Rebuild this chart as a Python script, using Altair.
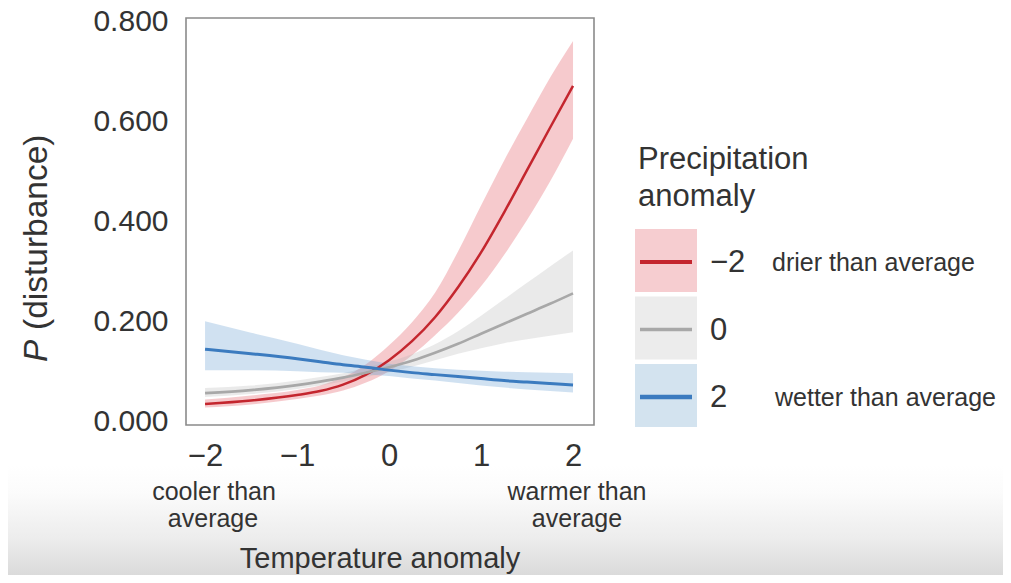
import altair as alt
import pandas as pd

# ---------------- data ----------------
temp = [-2, -1.5, -1, -0.75, -0.5, -0.25, 0, 0.25, 0.5, 0.75, 1, 1.25, 1.5, 1.75, 2]

red_mean = [0.034, 0.041, 0.052, 0.060, 0.073, 0.093, 0.122, 0.160, 0.208, 0.268, 0.338, 0.418, 0.503, 0.588, 0.672]
red_lo   = [0.027, 0.033, 0.044, 0.051, 0.061, 0.077, 0.100, 0.132, 0.172, 0.217, 0.270, 0.333, 0.403, 0.480, 0.566]
red_hi   = [0.043, 0.051, 0.062, 0.071, 0.088, 0.114, 0.152, 0.198, 0.257, 0.340, 0.432, 0.522, 0.606, 0.688, 0.762]

gray_mean = [0.056, 0.062, 0.072, 0.079, 0.087, 0.097, 0.108, 0.121, 0.137, 0.155, 0.175, 0.195, 0.215, 0.235, 0.256]
gray_lo   = [0.048, 0.054, 0.064, 0.071, 0.079, 0.088, 0.098, 0.109, 0.122, 0.135, 0.146, 0.156, 0.164, 0.171, 0.178]
gray_hi   = [0.066, 0.071, 0.081, 0.088, 0.096, 0.107, 0.119, 0.134, 0.154, 0.180, 0.211, 0.244, 0.277, 0.310, 0.342]

blue_mean = [0.144, 0.135, 0.125, 0.119, 0.113, 0.108, 0.102, 0.097, 0.093, 0.089, 0.085, 0.081, 0.078, 0.075, 0.072]
blue_lo   = [0.102, 0.102, 0.100, 0.098, 0.097, 0.094, 0.090, 0.085, 0.081, 0.076, 0.071, 0.067, 0.063, 0.060, 0.057]
blue_hi   = [0.200, 0.177, 0.155, 0.143, 0.132, 0.123, 0.115, 0.110, 0.106, 0.103, 0.101, 0.099, 0.098, 0.097, 0.096]

precip_levels = ["\u22122", "0", "2"]
precip_desc = ["drier than average", "", "wetter than average"]
line_colors = ["#c4262e", "#a8a8a8", "#3b7bbf"]
band_colors = ["#e8747c", "#b4b4b4", "#6fa5d3"]
key_colors = ["#f6cdd0", "#ececec", "#d3e3ef"]

y_ticks = [0, 0.2, 0.4, 0.6, 0.8]
x_ticks = [-2, -1, 0, 1, 2]

FONT = "Liberation Sans"
TXT = "#333333"

rows = []
for lvl, m, lo, hi in zip(precip_levels,
                          [red_mean, gray_mean, blue_mean],
                          [red_lo, gray_lo, blue_lo],
                          [red_hi, gray_hi, blue_hi]):
    for x, a, b, c in zip(temp, m, lo, hi):
        rows.append({"temp": x, "precip": lvl, "p": a, "lo": b, "hi": c})
df = pd.DataFrame(rows)

xscale = alt.Scale(domain=[-2.207, 2.228], nice=False, zero=False)
yscale = alt.Scale(domain=[-0.008, 0.808], nice=False, zero=False)

xaxis = alt.Axis(values=x_ticks, format="d", title=None, grid=False, ticks=False, tickSize=0,
                 domain=False, labelFontSize=31, labelFont=FONT, labelColor=TXT,
                 labelPadding=16, zindex=1)
yaxis = alt.Axis(values=y_ticks, format=".3f", title=None, grid=False, ticks=False, tickSize=0,
                 domain=False, labelFontSize=30, labelFont=FONT, labelColor=TXT,
                 labelPadding=18, zindex=1)

base = alt.Chart(df)

bands = []
for lvl, col, op in zip(precip_levels, band_colors, [0.38, 0.28, 0.33]):
    bands.append(
        base.transform_filter(alt.datum.precip == lvl)
        .mark_area(color=col, opacity=op, interpolate="monotone")
        .encode(x=alt.X("temp:Q", scale=xscale, axis=xaxis),
                y=alt.Y("lo:Q", scale=yscale, axis=yaxis),
                y2="hi:Q")
    )

lines = []
for lvl, col, w in zip(precip_levels, line_colors, [2.5, 2.6, 3]):
    lines.append(
        base.transform_filter(alt.datum.precip == lvl)
        .mark_line(color=col, strokeWidth=w, interpolate="monotone")
        .encode(x=alt.X("temp:Q", scale=xscale, axis=xaxis),
                y=alt.Y("p:Q", scale=yscale, axis=yaxis))
    )

one = pd.DataFrame({"k": [0]})
OY = -18  # page y -> view y


def txt(s, x, y, size, align="left", baseline="alphabetic", angle=0, italic=False, color=TXT):
    return alt.Chart(pd.DataFrame({"t": [s]})).mark_text(
        align=align, baseline=baseline, fontSize=size, font=FONT, angle=angle,
        fontStyle="italic" if italic else "normal", color=color
    ).encode(x=alt.value(x), y=alt.value(y + OY), text="t:N")


# background fade at the bottom (as in the reference screenshot)
fade = alt.Chart(one).mark_rect(
    strokeWidth=0,
    fill=alt.Gradient(gradient="linear",
                      stops=[alt.GradientStop(color="#ffffff", offset=0),
                             alt.GradientStop(color="#fbfbfb", offset=0.25),
                             alt.GradientStop(color="#ececec", offset=0.65),
                             alt.GradientStop(color="#d8d8d8", offset=1)],
                      x1=0, x2=0, y1=0, y2=1)
).encode(x=alt.value(-186), x2=alt.value(818), y=alt.value(465 + OY), y2=alt.value(580 + OY))

annots = [
    # y axis title
    txt("P", -149, 362, 33.5, angle=270, baseline="middle", italic=True),
    txt("(disturbance)", -149, 330, 33.5, angle=270, baseline="middle"),
    # x sub labels
    txt("cooler than", 28, 500, 25, align="center"),
    txt("average", 27, 527, 25, align="center"),
    txt("warmer than", 391, 500, 25, align="center"),
    txt("average", 391, 527, 25, align="center"),
    txt("Temperature anomaly", 194, 568, 29, align="center"),
    # legend title
    txt("Precipitation", 452, 169, 31),
    txt("anomaly", 452, 206, 31),
]

legend = []
row_tops = [229, 296.5, 364]
for top, lvl, desc, kc, lc, w in zip(row_tops, precip_levels, precip_desc, key_colors, line_colors, [4, 3.5, 4.5]):
    legend.append(alt.Chart(one).mark_rect(color=kc).encode(
        x=alt.value(449), x2=alt.value(511), y=alt.value(top + OY), y2=alt.value(top + 63 + OY)))
    legend.append(alt.Chart(one).mark_rule(color=lc, strokeWidth=w).encode(
        x=alt.value(454), x2=alt.value(506), y=alt.value(top + 33 + OY)))
    legend.append(txt(lvl, 524, top + 34, 31, baseline="middle"))
    if desc:
        legend.append(txt(desc, 586 if lvl != "2" else 589, top + 34, 25, baseline="middle"))

chart = alt.layer(fade, *bands, *lines, *annots, *legend).properties(
    width=408, height=407,
    autosize=alt.AutoSizeParams(type="none"),
    padding={"left": 178, "top": 10, "right": 409, "bottom": 150},
    background="white",
).configure_view(stroke="#8a8a8a", strokeWidth=1.6)

chart.save("out.html", embed_options={"renderer": "svg", "actions": False})
